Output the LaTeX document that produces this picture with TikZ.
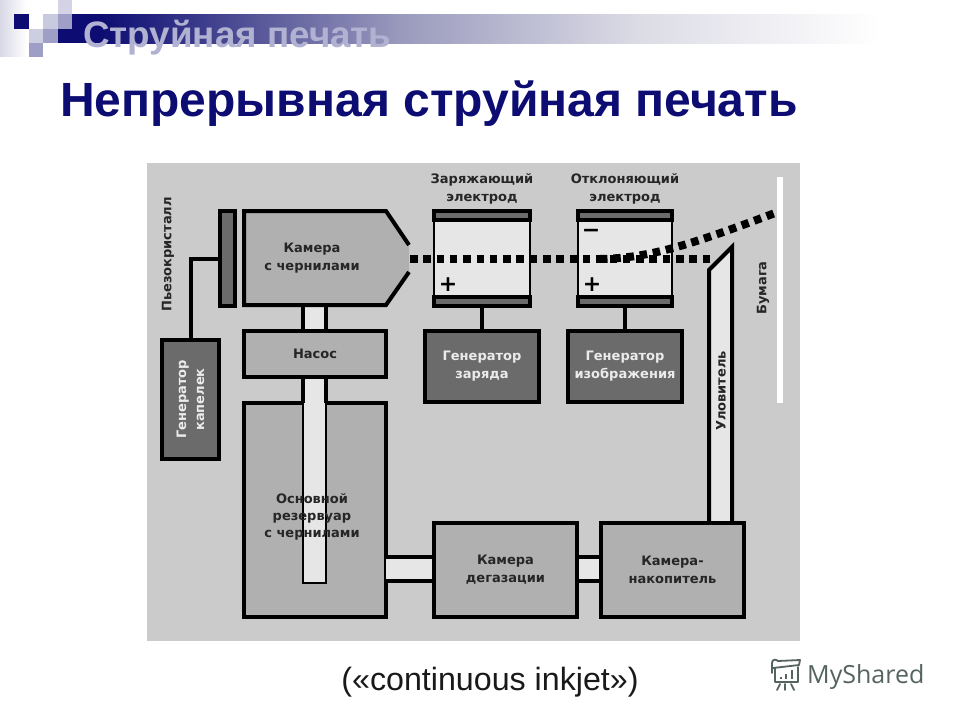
\documentclass[tikz,border=0pt]{standalone}
\usepackage{fontspec}
\setmainfont{Liberation Sans}
\newfontfamily\lblfont{DejaVu Sans}
\newfontfamily\logofont{Open Sans}
\definecolor{panel}{HTML}{CBCBCB}
\definecolor{boxgray}{HTML}{B0B0B0}
\definecolor{darkgray}{HTML}{6B6B6B}
\definecolor{pipefill}{HTML}{E6E6E6}
\definecolor{navy}{HTML}{0C0C72}
\definecolor{logoc}{HTML}{55645E}
\definecolor{barA}{HTML}{9A9ABD}
\definecolor{barB}{HTML}{DCDCE6}
\definecolor{edge}{HTML}{D8D8E6}
\tikzset{
  x=1pt,y=-1pt,
  boxnode/.style={draw=black,line width=4pt,inner sep=0pt,outer sep=0pt,align=center,
    font=\lblfont\bfseries\fontsize{13}{18}\selectfont,text=black!85},
  lightbox/.style={boxnode,fill=boxgray},
  darkbox/.style={boxnode,fill=darkgray,text=white!92!black},
  bar/.style={draw=black,line width=4pt,fill=darkgray,inner sep=0pt,outer sep=0pt},
  gapfill/.style={fill=pipefill,draw=none,inner sep=0pt,outer sep=0pt},
  wire/.style={draw=black,line width=4pt},
  lbl/.style={font=\lblfont\bfseries\fontsize{13}{18}\selectfont,text=black!85,inner sep=0pt,align=center},
  sign/.style={font=\lblfont\bfseries\fontsize{22}{22}\selectfont,text=black,inner sep=0pt},
  drops/.style={draw=black,line width=8pt,dash pattern=on 7.5pt off 5.8pt},
}
\begin{document}
\begin{tikzpicture}
\useasboundingbox (0,0) rectangle (960,720);
\fill[white] (0,0) rectangle (960,720);
% template decoration
\shade[left color=edge,right color=white,draw=none] (0,0) rectangle (26,56);
\fill[navy] (72,14) rectangle (100,43);
\shade[left color=navy,right color=barA] (100,14) rectangle (400,43);
\shade[left color=barA,right color=barB] (400,14) rectangle (640,43);
\shade[left color=barB,right color=white] (640,14) rectangle (880,43);
\fill[navy] (58,29) rectangle (72,43);
\fill[navy] (14,14) rectangle (29,29);
\fill[navy!22] (43,14) rectangle (58,29);
\fill[navy!40] (58,14) rectangle (72,29);
\fill[navy!18] (58,0) rectangle (72,14);
\fill[navy!20] (29,29) rectangle (43,43);
\fill[navy!40] (43,29) rectangle (58,43);
\fill[navy!40] (29,43) rectangle (43,57);
\node[anchor=base west,inner sep=0pt,font=\bfseries\fontsize{36.8}{36.8}\selectfont,text=navy!32] (sub) at (83,47) {Струйная печать};
\node[anchor=base west,inner sep=0pt,font=\bfseries\fontsize{48}{48}\selectfont,text=navy] (title) at (60,116) {Непрерывная струйная печать};
% panel
\fill[panel] (147,163) rectangle (800,641);
% paper
\draw[white,line width=6pt] (780,177) -- (780,403);
% pipes (under the boxes)
\node[gapfill,minimum width=23pt,minimum height=30pt] (pipeA) at (314.5,318) {};
\draw[wire] (pipeA.north west) -- (pipeA.south west) (pipeA.north east) -- (pipeA.south east);
% reservoir
\node[lightbox,minimum width=142pt,minimum height=214pt] (res) at (315,510) {};
\node[draw=black,line width=2pt,fill=pipefill,inner sep=0pt,minimum width=23pt,minimum height=190pt,anchor=north] (pipeB) at (314.5,392) {};
\node[gapfill,minimum width=23pt,minimum height=26pt] (pipeC) at (314.5,390) {};
\draw[wire] (pipeC.north west) -- (pipeC.south west) (pipeC.north east) -- (pipeC.south east);
\node[lbl] (restext) at (312,517) {Основной\\[-1pt]резервуар\\[-1pt]с чернилами};
% pump
\node[lightbox,minimum width=142pt,minimum height=46pt] (pump) at (315,354) {Насос};
% chamber
\fill[boxgray] (244,211) -- (386,211) -- (409,245) -- (409,272) -- (386,305) -- (244,305) -- cycle;
\draw[black,line width=4pt,line join=miter] (409,245) -- (386,211) -- (244,211) -- (244,305) -- (386,305) -- (409,272);
\node[lbl] (cham) at (312,258) {Камера\\с чернилами};
\coordinate (nozzle) at (410,259);
% piezo and generator
\node[bar,minimum width=15pt,minimum height=95pt] (piezo) at (227.5,258.5) {};
\node[lbl,rotate=90] (piezol) at (168,254.5) {Пьезокристалл};
\node[darkbox,minimum width=119pt,minimum height=57pt,rotate=90] (genk) at (190.5,399.5) {Генератор\\капелек};
\draw[wire] (piezo.west) -| (genk.east);
% electrodes
\node[draw=black,line width=2pt,fill=pipefill,minimum width=96pt,minimum height=84pt,inner sep=0pt] (zar) at (482,258.5) {};
\node[draw=black,line width=2pt,fill=pipefill,minimum width=94pt,minimum height=84pt,inner sep=0pt] (otk) at (625,258.5) {};
\node[bar,minimum width=96pt,minimum height=9.5pt] (zart) at (482,215.5) {};
\node[bar,minimum width=96pt,minimum height=9.5pt] (zarb) at (482,301.5) {};
\node[bar,minimum width=94pt,minimum height=9.5pt] (otkt) at (625,215.5) {};
\node[bar,minimum width=94pt,minimum height=9.5pt] (otkb) at (625,301.5) {};
\node[lbl] (zarl) at (482,188.5) {Заряжающий\\электрод};
\node[lbl] (otkl) at (625,188.5) {Отклоняющий\\электрод};
\node[sign] (p1) at (448,285) {+};
\node[sign] (p2) at (592,285) {+};
\node[sign] (m1) at (591,233) {−};
% generators
\node[darkbox,minimum width=114pt,minimum height=71pt] (gzar) at (482,366.5) {Генератор\\заряда};
\node[darkbox,minimum width=114pt,minimum height=71pt] (gizo) at (625,366.5) {Генератор\\изображения};
\draw[wire] (zarb.south) -- (gzar.north);
\draw[wire] (otkb.south) -- (gizo.north);
% lower pipes
\node[gapfill,minimum width=48pt,minimum height=24pt] (pipeD) at (410,569) {};
\draw[wire] (pipeD.north west) -- (pipeD.north east) (pipeD.south west) -- (pipeD.south east);
\node[gapfill,minimum width=24pt,minimum height=24pt] (pipeE) at (589,569) {};
\draw[wire] (pipeE.north west) -- (pipeE.north east) (pipeE.south west) -- (pipeE.south east);
% catcher
\fill[pipefill] (709,270) -- (732,247) -- (732,523) -- (709,523) -- cycle;
\draw[black,line width=4pt] (709,523) -- (709,270) -- (732,247) -- (732,523);
\coordinate (catch) at (713,259);
\node[lbl,rotate=90] (catchl) at (721,391) {Уловитель};
\node[lbl,rotate=90] (paperl) at (763,288) {Бумага};
% lower boxes
\node[lightbox,minimum width=143pt,minimum height=94pt] (degas) at (505.5,570) {Камера\\дегазации};
\node[lightbox,minimum width=143pt,minimum height=94pt] (nak) at (672.5,570) {Камера-\\накопитель};
% drops
\draw[drops] (nozzle) -- (catch);
\coordinate (papertarget) at (775,213);
\draw[drops] (nozzle) ++(190,0) .. controls (650,258) and (690,245) .. (papertarget);
% bottom text
\node[anchor=base,inner sep=0pt,font=\fontsize{32.2}{32}\selectfont,text=black!90] (cap) at (490,690) {(«continuous inkjet»)};
% logo
\begin{scope}[draw=logoc,line width=1.8pt,line join=round,line cap=round]
\draw (772,673) -- (772,663) .. controls (772,659) and (776,659) .. (778,661) -- (800,660) -- (799,665) -- (773,668);
\draw (775,668) -- (775,682) -- (798,682) -- (798,667);
\draw (780,684) -- (777,690) (785,684) -- (785,690) (791,684) -- (794,690);
\draw[line width=2.4pt,line cap=butt] (781,679) -- (781,677) (786,679) -- (786,674) (792,679) -- (792,670);
\end{scope}
\node[anchor=base west,inner sep=0pt,font=\logofont\fontsize{25}{25}\selectfont,text=logoc] (logo) at (807,683) {MyShared};
\end{tikzpicture}
\end{document}
